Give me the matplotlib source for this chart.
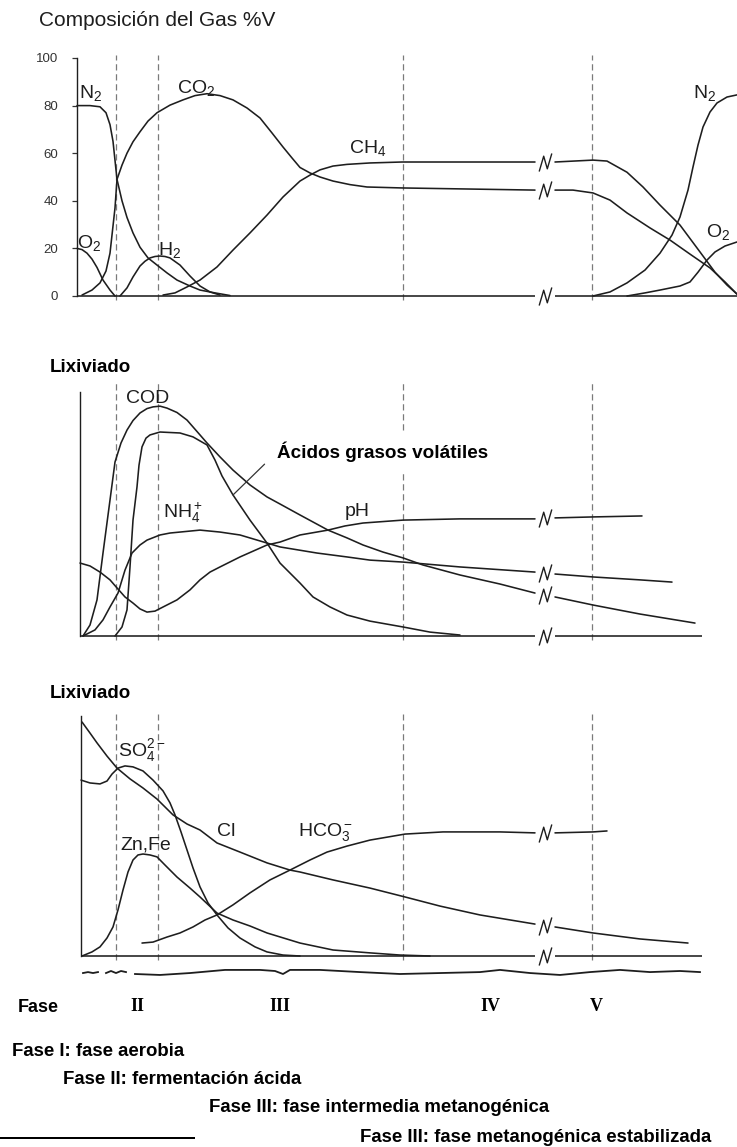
import numpy as np
import matplotlib
matplotlib.use("Agg")
import matplotlib.pyplot as plt
from matplotlib.path import Path
from matplotlib.patches import Rectangle

nan = np.nan

# time axis is arbitrary (landfill age), phase limits and the axis break
PHASES = [3.9, 8.1, 32.6, 51.5]
BREAK_T = 46.8
PHASE_NAMES = ["II", "III", "IV", "V"]
PHASE_NAME_T = [6.0, 20.3, 41.3, 51.9]

# ---- gas composition (% vol) ----
n2_in_t = [0, 1.3, 2.3, 2.9, 3.3, 3.6, 3.8, 4.0, 4.5, 5.0, 5.6, 6.3, 7.1, 8.0, 9.0, 10.0, 11.3, 12.3, 13.8, 15.3]
n2_in_v = [80, 80, 79.5, 77, 72, 65, 57, 49, 40, 33, 26.5, 20.5, 16, 13, 9.7, 6.7, 4.2, 2.5, 1.3, 0.2]

o2_in_t = [0, 0.5, 1.0, 1.5, 2.0, 2.6, 3.3, 3.8]
o2_in_v = [20, 19.5, 18, 15.5, 12, 6.7, 2.5, 0]

co2_t = [0.5, 1.5, 2.3, 2.9, 3.3, 3.8, 4.0, 4.5, 5.0, 5.6, 6.3, 7.1, 8.0, 9.3, 10.6, 11.8, 13.0, 14.3,
         15.6, 17.0, 18.3, 19.5, 20.6, 21.5, 22.3, 23.3, 24.3, 25.6, 27.3, 29.0,
         32.5, 45.8, nan, 47.8, 49.6, 51.6, 53.3, 55.0, 57.3, 59.3, 61.3, 63.3, 64.8, 66.0]
co2_v = [0.4, 2.5, 5.5, 10.5, 18, 37, 49, 55, 60, 64.8, 69, 73.5, 77, 80.2, 82.4, 84.2, 85, 84.2,
         82.4, 79, 74.8, 68.5, 62.6, 58, 54, 51.7, 50, 48.3, 46.8, 45.8,
         45.4, 44.5, nan, 44.5, 44.5, 43.3, 40.3, 34.9, 28.6, 23.5, 17.6, 11.8, 5.9, 0.8]

ch4_t = [8.6, 9.8, 11.0, 12.3, 14.0, 15.6, 17.3, 19.0, 20.6, 22.3, 23.3, 24.3, 25.6, 27.0, 29.3, 32.5, 45.8, nan,
         47.8, 51.6, 53.0, 55.0, 56.6, 58.3, 60.3, 62.3, 63.8, 65.0, 66.0]
ch4_v = [0.4, 1.3, 3.8, 6.7, 12.2, 19.3, 26.5, 34, 41.6, 48.3, 50.8, 53, 54.6, 55.3, 55.9, 56.3, 56.3, nan,
         56.3, 57.1, 56.7, 52, 45.8, 38.2, 29.8, 18.5, 10, 4.6, 0.8]

h2_t = [4.3, 5.0, 5.6, 6.3, 6.8, 7.3, 7.8, 8.3, 8.8, 9.3, 10.3, 11.3, 12.3, 13.3, 14.3]
h2_v = [0, 3.4, 8, 12.6, 14.6, 16, 16.6, 16.8, 16.6, 16, 13, 8.4, 4.2, 1.7, 0.4]

n2_out_t = [51.6, 53.3, 55.0, 56.8, 58.3, 59.5, 60.3, 61.1, 61.6, 62.1, 62.6, 63.3, 64.0, 65.0, 66.0]
n2_out_v = [0, 1.7, 5.5, 10.9, 18, 25.6, 33.2, 44.5, 54.2, 63.4, 71, 77.3, 81.1, 83.6, 84.5]

o2_out_t = [55.0, 56.8, 58.3, 60.3, 61.3, 62.1, 63.0, 63.8, 64.8, 66.0]
o2_out_v = [0, 1.3, 2.5, 4.2, 5.9, 10, 15.1, 18.5, 21, 22.7]

# ---- leachate: organic load, ammonium and pH (relative) ----
cod_t = [0.6, 1.3, 2.0, 2.6, 3.3, 3.8, 4.4, 5.0, 5.6, 6.3, 7.0, 7.6, 8.3, 9.0, 10.0, 11.0, 12.3, 13.0, 14.3,
         15.6, 17.3, 19.0, 20.3, 22.3, 25.1, 27.0, 28.6, 30.6, 32.6, 34.6, 38.3, 42.3, 45.8, nan,
         47.8, 51.6, 56.3, 61.8]
cod_v = [0, 4.5, 14.8, 34, 55.7, 71.3, 79.1, 84.4, 88.3, 91.4, 93.2, 93.9, 94.2, 93.4, 91.6, 88.5, 82.4, 79.1, 73.4,
         68, 61.9, 57, 54.1, 49.6, 43.4, 40.2, 37.3, 34.4, 32, 29.1, 25, 21.3, 17.6, nan,
         16, 12.7, 9.0, 5.3]

vfa_t = [3.8, 4.5, 5.0, 5.3, 5.6, 6.0, 6.2, 6.5, 6.9, 7.3, 8.3, 10.3, 11.6, 13.0, 13.8, 14.5, 15.6, 17.3,
         19.0, 20.3, 22.3, 23.6, 25.3, 27.0, 29.3, 32.6, 35.3, 38.3]
vfa_v = [0, 3.7, 10.7, 28.3, 47.5, 61.1, 70, 77.5, 81.1, 82.4, 83.6, 83.2, 81.6, 78.3, 72.1, 65.6, 57.8, 47.5,
         38.1, 29.9, 21.7, 16, 11.9, 8.6, 6.1, 3.7, 1.6, 0.4]

nh4_t = [0.6, 1.8, 2.6, 3.3, 4.1, 4.8, 5.5, 6.3, 7.0, 8.3, 9.3, 12.3, 14.3, 16.3, 19.0, 20.3, 24.0,
         27.0, 29.3, 32.6, 38.3, 45.8, nan, 47.8, 51.6, 56.3, 59.5]
nh4_v = [0, 2.5, 6.6, 11.9, 17.6, 27, 34, 37.3, 39.3, 41.4, 42.2, 43.4, 42.6, 41.4, 38.1, 36.5, 34,
         32.4, 31.1, 30.3, 28.3, 26.2, nan, 25.4, 24.2, 23, 22.1]

ph_t = [0.3, 1.3, 2.3, 3.3, 4.0, 4.8, 5.6, 6.3, 7.0, 7.8, 8.8, 10.0, 11.3, 12.3, 13.3, 14.3, 16.3,
        19.0, 20.3, 22.3, 25.1, 26.8, 28.6, 32.6, 38.3, 45.8, nan, 47.8, 51.6, 56.5]
ph_v = [29.9, 28.7, 26.2, 23, 19.7, 16, 13.5, 11.1, 9.8, 10.2, 12.3, 14.8, 18.9, 23, 26.2, 28.3, 32.4,
        37.3, 38.5, 41.4, 43.4, 45.1, 46.3, 47.5, 48, 48, nan, 48.4, 48.8, 49.2]

# ---- leachate: inorganic ions (relative) ----
cl_t = [0.5, 1.3, 2.0, 3.0, 4.0, 5.3, 6.6, 8.0, 9.6, 11.0, 12.3, 14.0, 16.3, 19.0, 21.3, 22.3, 25.6,
        29.3, 32.8, 36.3, 40.3, 45.8, nan, 47.8, 51.6, 56.3, 61.1]
cl_v = [97.5, 92.9, 88.8, 83.3, 78.3, 73.8, 70, 65.4, 58.8, 55, 52.5, 47.1, 43.3, 38.8, 35.8, 35, 31.7,
        28.3, 24.6, 20.8, 17.1, 13.3, nan, 12.1, 9.6, 7.1, 5.4]

so4_t = [0.4, 1.3, 2.3, 3.0, 3.5, 4.1, 4.8, 5.6, 6.6, 7.6, 8.6, 9.3, 9.8, 10.4, 11.0, 11.6, 12.3,
         13.1, 14.0, 15.1, 16.3, 17.8, 19.0, 20.6, 22.3]
so4_v = [73.3, 72.1, 71.7, 72.9, 75.8, 78.3, 79.2, 78.8, 77.1, 73.3, 68.8, 63.8, 58.8, 51.7, 44.2, 36.7, 28.8,
         22.1, 17.1, 11.7, 7.5, 3.8, 1.7, 0.4, 0]

znfe_t = [0.5, 1.5, 2.3, 3.0, 3.6, 4.1, 4.6, 5.1, 5.6, 6.1, 6.6, 7.3, 8.0, 8.8, 10.0, 11.3, 12.3, 14.0,
          15.6, 17.3, 19.0, 22.3, 25.6, 29.3, 32.3, 35.3]
znfe_v = [0, 1.7, 3.8, 7.5, 12.1, 19.2, 27.5, 35, 40, 42.1, 42.5, 42.1, 41.3, 37.9, 32.9, 28.3, 24.6, 17.9,
          15, 12.5, 9.6, 5.4, 2.5, 1.3, 0.4, 0]

hco3_t = [6.5, 7.6, 9.0, 10.3, 11.6, 12.8, 14.0, 15.6, 17.3, 19.3, 21.3, 23.3, 25.0, 27.0, 29.3, 32.8,
          36.6, 42.3, 45.8, nan, 47.8, 51.6, 53.0]
hco3_v = [5.4, 5.8, 7.9, 9.6, 12.1, 15, 17.1, 21.3, 26.3, 31.7, 35.8, 40, 43.3, 45.8, 48.3, 50.8,
          51.7, 51.7, 51.3, nan, 51.3, 51.7, 52.1]

# hand-drawn wavy rule under the last panel
wave_segments = [
    ([0.6, 1.1, 1.6, 2.1], [-7.1, -6.7, -7.1, -6.7]),
    ([2.9, 3.4, 3.9, 4.4, 4.9], [-7.1, -6.25, -7.1, -6.25, -6.7]),
    ([5.8, 8.3, 11.3, 14.8, 18.3, 19.8, 20.6, 21.3, 24.3, 28.3, 32.3, 36.3, 40.3, 42.3, 45.3, 48.3,
      51.3, 54.3, 57.3, 60.3, 62.3],
     [-7.5, -7.9, -7.1, -5.8, -5.8, -6.25, -7.5, -5.8, -5.8, -6.7, -7.5, -7.1, -6.7, -5.8, -7.1, -7.9,
      -6.7, -5.8, -6.7, -6.25, -6.7]),
]

phase_notes = [
    "Fase I: fase aerobia",
    "Fase II: fermentación ácida",
    "Fase III: fase intermedia metanogénica",
    "Fase III: fase metanogénica estabilizada",
]

INK = "#1e1e1e"
DASH = "#7a7a7a"
W, H = 737, 1147

plt.rcParams["font.family"] = ["Liberation Sans", "DejaVu Sans"]
plt.rcParams["mathtext.fontset"] = "custom"
plt.rcParams["mathtext.rm"] = "Liberation Sans"
plt.rcParams["mathtext.it"] = "Liberation Sans:italic"

fig = plt.figure(figsize=(W / 100, H / 100), dpi=100)


def add_panel(top, bottom):
    ax = fig.add_axes([77 / W, 1 - bottom / H, 660 / W, (bottom - top) / H])
    ax.set_xlim(0, 66)
    ax.set_ylim(0, 100)
    ax.set_xticks([])
    for side in ["top", "right", "bottom"]:
        ax.spines[side].set_visible(False)
    ax.spines["left"].set_color(INK)
    ax.spines["left"].set_linewidth(1.0)
    ax.patch.set_alpha(0)
    return ax


def curve(ax, t, v):
    ax.plot(t, v, color=INK, lw=1.15, clip_on=False, solid_capstyle="round",
            solid_joinstyle="round", zorder=3)


# zig-zag glyph used to mark the broken time axis
break_glyph = Path([(-0.35, -0.5), (-0.1, 0.35), (0.1, -0.35), (0.35, 0.5)],
                   [Path.MOVETO, Path.LINETO, Path.LINETO, Path.LINETO])


def break_marks(ax, series, x_end, x0=0.0):
    gap_lo, gap_hi = BREAK_T - 1.0, BREAK_T + 1.0
    ax.hlines([0, 0], [x0, gap_hi], [gap_lo, x_end], colors=INK, lw=1.15, zorder=3, clip_on=False)
    ys = [0.0]
    for t, v in series:
        t = np.asarray(t, float)
        v = np.asarray(v, float)
        ok = ~np.isnan(t)
        ys.append(np.interp(BREAK_T, t[ok], v[ok]))
    ax.plot([BREAK_T] * len(ys), ys, ls="none", marker=break_glyph, markersize=13,
            markerfacecolor="none", markeredgecolor=INK, markeredgewidth=1.0, clip_on=False, zorder=4)


def phase_lines(ax, lo, hi):
    ax.vlines(PHASES, lo, hi, colors=DASH, linestyles=(0, (5, 3)), lw=0.9, clip_on=False, zorder=1)


label_kw = dict(fontsize=14, color=INK, ha="center", va="center")

# ---------- panel 1: gas composition ----------
ax1 = add_panel(58, 296)
ax1.set_yticks([0, 20, 40, 60, 80, 100])
ax1.tick_params(axis="y", length=3.6, width=0.9, pad=10, labelsize=9.5, colors="#333333")
phase_lines(ax1, -1.7, 101.3)
for t, v in [(n2_in_t, n2_in_v), (o2_in_t, o2_in_v), (co2_t, co2_v), (ch4_t, ch4_v),
             (h2_t, h2_v), (n2_out_t, n2_out_v), (o2_out_t, o2_out_v)]:
    curve(ax1, t, v)
break_marks(ax1, [(ch4_t, ch4_v), (co2_t, co2_v)], 66)

ax1.text(1.4, 85.3, r"N$_2$", **label_kw)
ax1.text(11.9, 87.6, r"CO$_2$", **label_kw)
ax1.text(1.2, 22.3, r"O$_2$", **label_kw)
ax1.text(9.3, 19.3, r"H$_2$", **label_kw)
ax1.text(29.1, 62.2, r"CH$_4$", **label_kw)
ax1.text(62.8, 85.3, r"N$_2$", **label_kw)
ax1.text(64.1, 26.9, r"O$_2$", **label_kw)

fig.text(39 / W, 1 - 20 / H, "Composición del Gas %V", fontsize=15, color=INK, ha="left", va="center")

# ---------- panel 2: leachate organics ----------
ax2 = add_panel(392, 636)
ax2.set_yticks([])
ax2.spines["left"].set_position(("data", 0.3))
phase_lines(ax2, -1.6, 104)
for t, v in [(cod_t, cod_v), (vfa_t, vfa_v), (nh4_t, nh4_v), (ph_t, ph_v)]:
    curve(ax2, t, v)
break_marks(ax2, [(ph_t, ph_v), (nh4_t, nh4_v), (cod_t, cod_v)], 62.5, x0=0.3)

ax2.text(7.1, 97.5, "COD", **label_kw)
ax2.text(10.6, 50.4, r"NH$_4^+$", **label_kw)
ax2.text(28.0, 51.0, "pH", **label_kw)
ax2.annotate("Ácidos grasos volátiles", xy=(15.6, 57.8), xytext=(20.0, 75.4),
             fontsize=13.6, fontweight="bold", color="black", ha="left", va="center",
             bbox=dict(boxstyle="square,pad=0.5", fc="white", ec="none"),
             arrowprops=dict(arrowstyle="-", color="#333333", lw=0.9, relpos=(0, 0.5),
                             shrinkA=3, shrinkB=0), zorder=5)

fig.text(50 / W, 1 - 367 / H, "Lixiviado", fontsize=13.5, fontweight="bold", ha="left", va="center")

# ---------- panel 3: leachate ions ----------
ax3 = add_panel(716, 956)
ax3.set_yticks([])
ax3.spines["left"].set_position(("data", 0.4))
phase_lines(ax3, -1.7, 100.8)
for t, v in [(cl_t, cl_v), (so4_t, so4_v), (znfe_t, znfe_v), (hco3_t, hco3_v)]:
    curve(ax3, t, v)
break_marks(ax3, [(hco3_t, hco3_v), (cl_t, cl_v)], 62.5, x0=0.4)

ion_kw = dict(fontsize=14, color=INK, ha="left", va="center")
ax3.text(4.1, 85.8, r"SO$_4^{2-}$", **ion_kw)
ax3.text(4.3, 46.3, "Zn,Fe", **ion_kw)
ax3.text(14.0, 51.7, "Cl", **ion_kw)
ax3.text(22.1, 51.7, r"HCO$_3^-$", **ion_kw)

for t, v in wave_segments:
    ax3.plot(t, v, color=INK, lw=1.3, clip_on=False)

for name, t in zip(PHASE_NAMES, PHASE_NAME_T):
    ax3.text(t, -21.2, name, fontsize=13, fontweight="bold", family="Liberation Serif",
             ha="center", va="center", clip_on=False)

fig.text(18 / W, 1 - 1007 / H, "Fase", fontsize=13, fontweight="bold", ha="left", va="center")
fig.text(50 / W, 1 - 693 / H, "Lixiviado", fontsize=13.5, fontweight="bold", ha="left", va="center")

# phase legend at the foot of the figure
note_xy = [(12, 1052), (63, 1080), (209, 1107), (360, 1137)]
for txt, (x, y) in zip(phase_notes, note_xy):
    fig.text(x / W, 1 - y / H, txt, fontsize=13.4, fontweight="bold", ha="left", va="center")
# the second note is cut along its bottom edge
fig.add_artist(Rectangle((55 / W, 1 - 1094 / H), 270 / W, 10 / H, transform=fig.transFigure,
                         fc="white", ec="none", zorder=10))
fig.add_artist(Rectangle((0, 1 - 1139 / H), 195 / W, 2 / H, transform=fig.transFigure,
                         fc="black", ec="none", zorder=10))

fig.savefig("out.png", dpi=100, facecolor="white")
